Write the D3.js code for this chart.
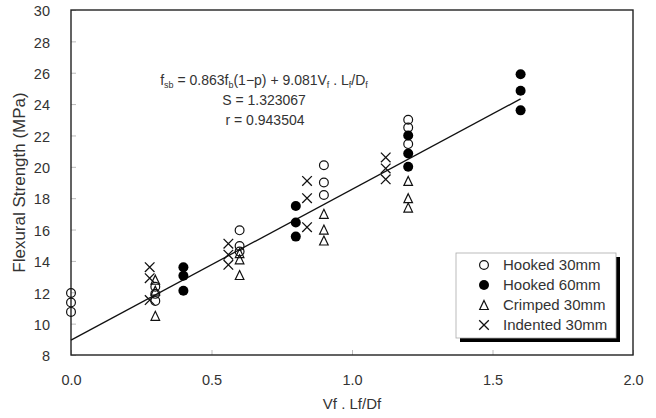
<!DOCTYPE html>
<html>
<head>
<meta charset="utf-8">
<script src="https://cdn.jsdelivr.net/npm/d3@7/dist/d3.min.js"></script>
<style>
  html, body { margin: 0; padding: 0; background: #fff; }
  text { font-family: "Liberation Sans", Arial, sans-serif; fill: #333; }
</style>
</head>
<body>
<svg id="chart" width="656" height="418"></svg>
<script>
// ---- data ----
const hooked30X = [0, 0, 0, 0.3, 0.3, 0.3, 0.6, 0.6, 0.6, 0.9, 0.9, 0.9, 1.2, 1.2, 1.2];
const hooked30Y = [11.95, 11.35, 10.75, 12.35, 11.9, 11.45, 15.95, 14.95, 14.6, 20.1, 19.0, 18.2, 23.0, 22.5, 21.45];

const hooked60X = [0.4, 0.4, 0.4, 0.8, 0.8, 0.8, 1.2, 1.2, 1.2, 1.6, 1.6, 1.6];
const hooked60Y = [13.6, 13.05, 12.1, 17.5, 16.45, 15.55, 22.0, 20.85, 20.0, 25.9, 24.85, 23.6];

const crimped30X = [0.3, 0.3, 0.3, 0.6, 0.6, 0.6, 0.9, 0.9, 0.9, 1.2, 1.2, 1.2];
const crimped30Y = [12.8, 12.1, 10.5, 14.5, 14.1, 13.1, 17.0, 16.0, 15.3, 19.1, 18.0, 17.4];

const indented30X = [0.28, 0.28, 0.28, 0.56, 0.56, 0.56, 0.84, 0.84, 0.84, 1.12, 1.12, 1.12];
const indented30Y = [13.6, 12.9, 11.5, 15.1, 14.4, 13.75, 19.1, 18.0, 16.15, 20.6, 19.9, 19.2];

const fitX = [0, 1.6];
const fitY = [8.95, 24.33];

const xTicks = [0, 0.5, 1.0, 1.5, 2.0];
const yTicks = [8, 10, 12, 14, 16, 18, 20, 22, 24, 26, 28, 30];

const seriesNames = ["Hooked 30mm", "Hooked 60mm", "Crimped 30mm", "Indented 30mm"];
const seriesKinds = ["open", "filled", "triangle", "cross"];

// ---- chart ----
const svg = d3.select("#chart");
const x = d3.scaleLinear().domain([0, 2]).range([71, 633]);
const y = d3.scaleLinear().domain([8, 30]).range([355, 10]);

// axes (inward ticks)
const yAxis = d3.axisLeft(y).tickValues(yTicks).tickSize(-5).tickPadding(21).tickFormat(d3.format("d"));
const xAxis = d3.axisBottom(x).tickValues(xTicks).tickSize(-5).tickPadding(20).tickFormat(d3.format(".1f"));

const gy = svg.append("g").attr("transform", `translate(${x(0)},0)`).call(yAxis);
const gx = svg.append("g").attr("transform", `translate(0,${y(8)})`).call(xAxis);
[gx, gy].forEach(g => {
  g.select(".domain").remove();
  g.selectAll(".tick line").attr("stroke", "#bbb").attr("stroke-width", 1);
  g.selectAll(".tick text").style("font-size", "14.5px").attr("fill", "#333");
});
gy.selectAll(".tick text").attr("dy", "0.4em");

// frame
svg.append("rect")
  .attr("x", x(0)).attr("y", y(30))
  .attr("width", x(2) - x(0)).attr("height", y(8) - y(30))
  .attr("fill", "none").attr("stroke", "#222").attr("stroke-width", 1.4);

// axis titles
svg.append("text")
  .attr("x", (x(0) + x(2)) / 2).attr("y", 409)
  .attr("text-anchor", "middle").style("font-size", "15px")
  .text("Vf . Lf/Df");
svg.append("text")
  .attr("transform", `translate(25,${(y(8) + y(30)) / 2}) rotate(-90)`)
  .attr("text-anchor", "middle").style("font-size", "17px").attr("fill", "#444")
  .text("Flexural Strength (MPa)");

// fit line
svg.append("line")
  .attr("x1", x(fitX[0])).attr("y1", y(fitY[0]))
  .attr("x2", x(fitX[1])).attr("y2", y(fitY[1]))
  .attr("stroke", "#111").attr("stroke-width", 1.3);

// marker drawing
function drawMarker(g, kind, cx, cy) {
  if (kind === "open") {
    g.append("circle").attr("cx", cx).attr("cy", cy).attr("r", 4.4)
      .attr("fill", "none").attr("stroke", "#111").attr("stroke-width", 1.2);
  } else if (kind === "filled") {
    g.append("circle").attr("cx", cx).attr("cy", cy).attr("r", 5)
      .attr("fill", "#000");
  } else if (kind === "triangle") {
    const w = 8.6, h = 9;
    g.append("path")
      .attr("d", `M${cx},${cy - h / 2} L${cx + w / 2},${cy + h / 2} L${cx - w / 2},${cy + h / 2} Z`)
      .attr("fill", "none").attr("stroke", "#111").attr("stroke-width", 1.2);
  } else if (kind === "cross") {
    const s = 4.8;
    g.append("path")
      .attr("d", `M${cx - s},${cy - s} L${cx + s},${cy + s} M${cx - s},${cy + s} L${cx + s},${cy - s}`)
      .attr("fill", "none").attr("stroke", "#111").attr("stroke-width", 1.3);
  }
}

const series = [
  { kind: "cross", xs: indented30X, ys: indented30Y },
  { kind: "triangle", xs: crimped30X, ys: crimped30Y },
  { kind: "open", xs: hooked30X, ys: hooked30Y },
  { kind: "filled", xs: hooked60X, ys: hooked60Y }
];
const gm = svg.append("g");
series.forEach(s => {
  s.xs.forEach((xv, i) => drawMarker(gm, s.kind, x(xv), y(s.ys[i])));
});

// equation text
const eq = svg.append("text").attr("x", 264).attr("y", 85)
  .attr("text-anchor", "middle").style("font-size", "14px");
const parts = [
  ["f", false], ["sb", true], [" = 0.863f", false], ["b", true], ["(1\u2212p) + 9.081V", false],
  ["f", true], [" . L", false], ["f", true], ["/D", false], ["f", true]
];
parts.forEach(([t, sub], i) => {
  const ts = eq.append("tspan").text(t);
  if (sub) {
    ts.style("font-size", "9px").attr("dy", "3");
  } else if (i > 0) {
    ts.attr("dy", "-3");
  }
});
svg.append("text").attr("x", 264).attr("y", 105)
  .attr("text-anchor", "middle").style("font-size", "14px").text("S = 1.323067");
svg.append("text").attr("x", 265).attr("y", 125)
  .attr("text-anchor", "middle").style("font-size", "14px").text("r = 0.943504");

// legend
const lg = svg.append("g");
const lx = 456, ly = 253, lw = 160, lh = 85;
lg.append("rect").attr("x", lx + 4).attr("y", ly + 4).attr("width", lw).attr("height", lh).attr("fill", "#000");
lg.append("rect").attr("x", lx).attr("y", ly).attr("width", lw).attr("height", lh)
  .attr("fill", "#fff").attr("stroke", "#aaa").attr("stroke-width", 0.8);
seriesNames.forEach((name, i) => {
  const cy = 265 + i * 20;
  drawMarker(lg, seriesKinds[i], 484, cy);
  lg.append("text").attr("x", 503).attr("y", cy + 5.3).style("font-size", "15px").text(name);
});
</script>
</body>
</html>
